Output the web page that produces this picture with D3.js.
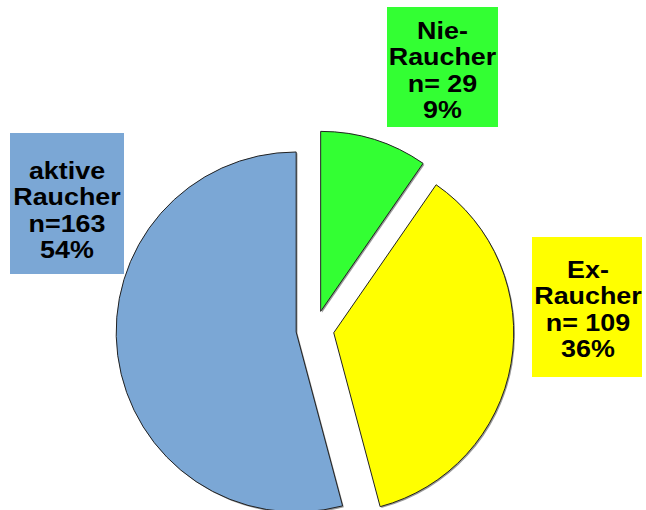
<!DOCTYPE html>
<html><head><meta charset="utf-8">
<script src="https://cdn.jsdelivr.net/npm/d3@7"></script>
<style>html,body{margin:0;padding:0;background:#fff;}svg{display:block;}</style>
</head><body>
<svg id="chart" width="646" height="510"></svg>
<script>
const categories = ["Nie-Raucher", "Ex-Raucher", "aktive Raucher"];
const counts = [29, 109, 163];
const percents = ["9%", "36%", "54%"];
const labelLines = [
  ["Nie-", "Raucher", "n= 29", "9%"],
  ["Ex-", "Raucher", "n= 109", "36%"],
  ["aktive", "Raucher", "n=163", "54%"]
];

const svg = d3.select("#chart");
const color = d3.scaleOrdinal().domain(categories).range(["#33ff33", "#ffff00", "#7ba7d5"]);

const cx = 315, cy = 329.5, R = 180, explode = 19;
const pie = d3.pie().sort(null).value(d => d.value);
const arcs = pie(categories.map((c, i) => ({cat: c, value: counts[i]})));
const arc = d3.arc().innerRadius(0).outerRadius(R);

const g = svg.append("g").attr("transform", `translate(${cx},${cy})`);
const slice = g.selectAll("g.slice").data(arcs).join("g")
  .attr("class", "slice")
  .attr("transform", d => {
    const m = (d.startAngle + d.endAngle) / 2;
    return `translate(${explode * Math.sin(m)},${-explode * Math.cos(m)})`;
  });
slice.append("path").attr("d", arc)
  .attr("transform", "translate(1.3,1.3)")
  .attr("fill", "#555").attr("opacity", 0.6);
slice.append("path").attr("d", arc)
  .attr("fill", d => color(d.data.cat))
  .attr("stroke", "#222").attr("stroke-width", 1);

// label boxes (annotation layout)
const boxes = [
  {x: 387, y: 7, w: 111, h: 120, tx: 442.5, ty: 39},
  {x: 532, y: 237, w: 110, h: 140, tx: 588, ty: 278},
  {x: 10, y: 133, w: 114, h: 141, tx: 67, ty: 179}
];
const lab = svg.selectAll("g.lab").data(categories).join("g").attr("class", "lab");
lab.append("rect")
  .attr("x", (d, i) => boxes[i].x).attr("y", (d, i) => boxes[i].y)
  .attr("width", (d, i) => boxes[i].w).attr("height", (d, i) => boxes[i].h)
  .attr("fill", d => color(d));
lab.each(function(d, i) {
  const b = boxes[i];
  const t = d3.select(this).append("g")
    .attr("transform", `translate(${b.tx},0) scale(1.12,1)`);
  labelLines[i].forEach((line, k) => {
    t.append("text")
      .attr("x", 0).attr("y", b.ty + k * 26.3)
      .attr("text-anchor", "middle")
      .attr("font-family", "Liberation Sans, Arial, sans-serif")
      .attr("font-weight", "bold")
      .attr("font-size", 24)
      .attr("fill", "#000")
      .text(line);
  });
});
</script>
</body></html>
